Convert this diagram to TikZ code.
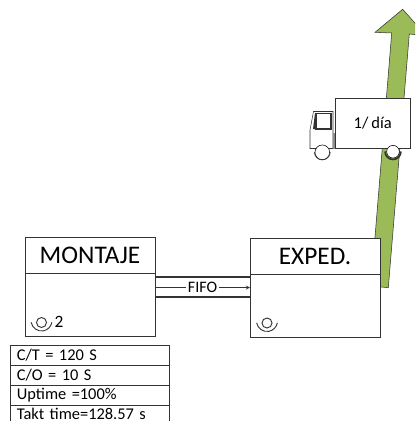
\documentclass[tikz,border=0pt]{standalone}
\usepackage{fontspec}
\setmainfont[WordSpace=0.8]{Carlito}
\definecolor{arrowgreen}{HTML}{9BBB59}
\definecolor{linegray}{HTML}{333333}
\begin{document}
\begin{tikzpicture}[
    x=0.75pt, y=-0.75pt,
    >=stealth,
    titlebox/.style={draw=linegray, fill=white, line width=0.75pt, rectangle, minimum height=27pt, minimum width=97.5pt, inner sep=0pt, align=center, font=\fontsize{19}{19}\selectfont},
    bodybox/.style={draw=linegray, fill=white, line width=0.75pt, rectangle, minimum height=47.25pt, minimum width=97.5pt, inner sep=0pt},
    datarow/.style={draw=linegray, fill=white, rectangle, minimum height=15pt, minimum width=119pt, inner sep=0pt, text width=109pt, align=left, font=\fontsize{12.3}{12.3}\selectfont},
    wheel/.style={draw=black, fill=white, circle, inner sep=0pt, minimum size=9.5pt},
    operator/.pic={\draw[linegray, line width=0.7pt] (0,2) circle (5) (-10.34,1.8) arc[start angle=170, end angle=10, radius=10.5];}
]
    \useasboundingbox (0,0) rectangle (415,421);
    \clip (0,0) rectangle (415,421);

    % shipment arrow
    \draw[fill=arrowgreen, draw=linegray] (371,286) -- (388.3,287.7) -- (409.3,34) -- (426,35.5) -- (402.7,9.3) -- (375,32.3) -- (391.7,33) -- cycle;

    % truck
    \draw[linegray, fill=white] (335,148.5) -- (310,148.5) -- (310,130) -- (313.5,111.5) -- (333,111.5) -- (333,148.5);
    \fill[black!45] (333,133) rectangle (335.5,148.5);
    \draw[linegray, thick] (316,113.5) rectangle (331,129);
    \fill[linegray] (313,129) -- (315,113) -- (316,113.5) -- (316,129) -- cycle;
    \node[draw=linegray, fill=white, line width=0.75pt, minimum width=56.5pt, minimum height=37.5pt, inner sep=0pt, font=\fontsize{12.4}{12.4}\selectfont] (truck) at (372.7,123.3) {1/ d\'{\i}a};
    \draw[linegray] (314.3,152) arc[start angle=180, end angle=0, radius=8];
    \node[wheel, minimum size=11pt] (wheelfront) at (322.3,152.3) {};
    \draw[linegray, very thick] (385,151.5) arc[start angle=180, end angle=0, radius=8];
    \node[wheel] (wheelrear) at (393,151.7) {};

    % processes
    \node[bodybox] (montajebody) at (90,304.75) {};
    \node[titlebox] (montaje) at (90,255) {MONTAJE};
    \node[bodybox] (expedbody) at (315,305.5) {};
    \node[titlebox] (exped) at (315,256) {EXPED.};
    \pic at (41.5,320.5) {operator};
    \node[font=\fontsize{13}{13}\selectfont] (opcount) at (59,322) {2};
    \pic at (267,321) {operator};

    % fifo lane
    \coordinate (fifotopa) at (155,277);
    \coordinate (fifotopb) at (250,277);
    \coordinate (fifobota) at (155,297);
    \coordinate (fifobotb) at (250,297);
    \coordinate (fifostart) at (155,287.5);
    \coordinate (fifoend) at (250,287.5);
    \node[inner sep=1pt, font=\fontsize{12}{12}\selectfont] (fifo) at (202.5,287.5) {FIFO};
    \draw[linegray, thick] (fifotopa) -- (fifotopb);
    \draw[linegray, thick] (fifobota) -- (fifobotb);
    \draw[linegray] (fifostart) -- (fifo);
    \draw[->, linegray] (fifo) -- (fifoend);

    % data box
    \node[datarow] (ct) at (89.5,355) {C/T = 120 S};
    \node[datarow] (co) at (89.5,375) {C/O = 10 S};
    \node[datarow] (up) at (89.5,395) {Uptime =100\%};
    \node[datarow, draw=none, fill=none, minimum height=0pt] (takt) at (89.5,413.5) {Takt time=128.57 s};
    \draw[linegray] (up.south west) -- ++(0,17) (up.south east) -- ++(0,17);
\end{tikzpicture}
\end{document}
